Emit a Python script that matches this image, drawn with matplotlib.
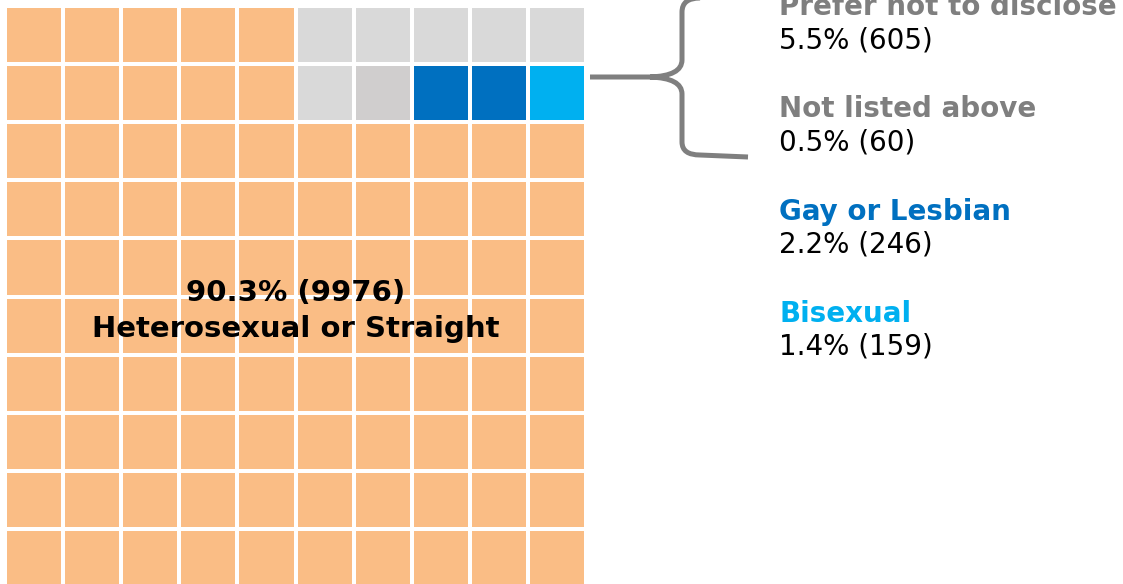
import numpy as np
import matplotlib
matplotlib.use("Agg")
import matplotlib.pyplot as plt
import matplotlib.colors as mcolors
from matplotlib.path import Path
from matplotlib.patches import PathPatch

# Data
categories = ["Heterosexual or Straight", "Prefer not to disclose",
              "Not listed above", "Gay or Lesbian", "Bisexual"]
percents = [90.3, 5.5, 0.5, 2.2, 1.4]
counts = [9976, 605, 60, 246, 159]
cells = [90, 6, 1, 2, 1]          # waffle squares per category (of 100)
cell_colors = ["#FABD85", "#D9D9D9", "#D0CECE", "#0070C0", "#00B0F0"]
label_colors = [None, "#7F7F7F", "#7F7F7F", "#0070C0", "#00B0F0"]

W, H = 1123, 584
fig = plt.figure(figsize=(W / 100, H / 100), dpi=100)
fig.patch.set_facecolor("white")

# waffle grid: majority everywhere, minorities fill the top-right 2x5 block
grid = np.zeros((10, 10), dtype=int)
minor = np.repeat(np.arange(1, len(cells)), cells[1:])
grid[0:2, 5:10] = minor.reshape(2, 5)

cmap = mcolors.ListedColormap(cell_colors)
norm = mcolors.BoundaryNorm(np.arange(len(cells) + 1) - 0.5, cmap.N)

ax = fig.add_axes([5 / W, -3 / H, 581 / W, 581 / H])
ax.pcolormesh(grid, cmap=cmap, norm=norm, edgecolors="white", linewidth=2.8)
ax.set_xlim(0, 10)
ax.set_ylim(10, 0)
ax.axis("off")

ax.text(5, 5.07, f"{percents[0]}% ({counts[0]})", ha="center", va="baseline",
        fontsize=21, fontweight="bold", color="black")
ax.text(5, 5.69, categories[0], ha="center", va="baseline",
        fontsize=21, fontweight="bold", color="black")

# overlay in pixel coordinates for the brace and the labels
ov = fig.add_axes([0, 0, 1, 1])
ov.set_xlim(0, W)
ov.set_ylim(H, 0)
ov.axis("off")
ov.patch.set_alpha(0)

brace_verts = [
    (590, 77), (650, 77), (682, 76), (682, 60), (682, 12), (682, -2), (700, -2), (748, -3),
    (650, 77), (682, 78), (682, 94), (682, 142), (682, 155), (700, 155), (748, 157),
]
brace_codes = [
    Path.MOVETO, Path.LINETO, Path.CURVE3, Path.CURVE3, Path.LINETO, Path.CURVE3, Path.CURVE3, Path.LINETO,
    Path.MOVETO, Path.CURVE3, Path.CURVE3, Path.LINETO, Path.CURVE3, Path.CURVE3, Path.LINETO,
]
ov.add_patch(PathPatch(Path(brace_verts, brace_codes), fill=False,
                       edgecolor="#7F7F7F", linewidth=3.6, capstyle="butt",
                       joinstyle="round"))

for i in range(1, len(categories)):
    y = 15 + (i - 1) * 102.3
    ov.text(779, y, categories[i], ha="left", va="baseline", fontsize=20,
            fontweight="bold", color=label_colors[i])
    ov.text(779, y + 33, f"{percents[i]}% ({counts[i]})", ha="left",
            va="baseline", fontsize=20, color="black")

fig.savefig("out.png", dpi=100)
